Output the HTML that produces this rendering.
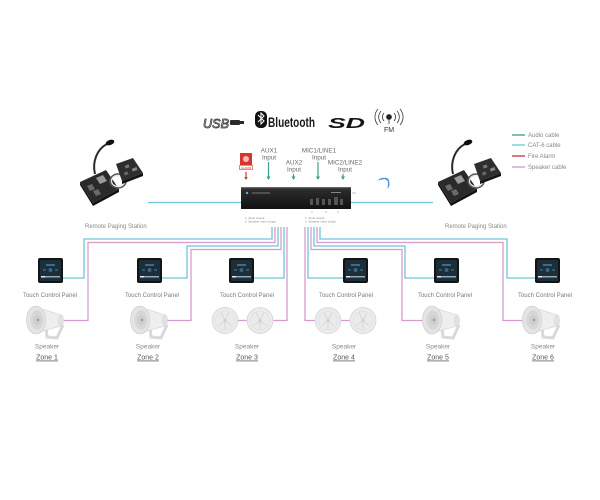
<!DOCTYPE html>
<html><head><meta charset="utf-8"><style>
html,body{margin:0;padding:0;background:#fff;}
svg{display:block;font-family:"Liberation Sans",sans-serif;}
</style></head><body>
<svg width="600" height="500" viewBox="0 0 600 500" xmlns="http://www.w3.org/2000/svg">
<defs>
<linearGradient id="amp" x1="0" y1="0" x2="0" y2="1">
<stop offset="0" stop-color="#4a4a4a"/><stop offset="0.15" stop-color="#2b2b2b"/><stop offset="1" stop-color="#111"/>
</linearGradient>
<g id="horn">
<path d="M20,22 L21,32 L31,33 L37,20" fill="none" stroke="#d9d9d9" stroke-width="3"/>
<polygon points="10,2 35,10 35,21 10,28" fill="#eeeeee" stroke="#d0d0d0" stroke-width="0.6"/>
<ellipse cx="35" cy="15.5" rx="2.5" ry="5.5" fill="#e2e2e2" stroke="#cfcfcf" stroke-width="0.5"/>
<ellipse cx="10" cy="15" rx="9.5" ry="14" fill="#e4e4e4" stroke="#c8c8c8" stroke-width="0.6"/>
<ellipse cx="11" cy="15" rx="6.5" ry="9.5" fill="#d6d6d6"/>
<ellipse cx="11.5" cy="15" rx="3.5" ry="5" fill="#cdcdcd"/>
<circle cx="12" cy="15" r="1.2" fill="#999"/>
</g>
<g id="ceil">
<circle cx="0" cy="0" r="13" fill="#ebebeb" stroke="#d3d3d3" stroke-width="0.7"/>
<circle cx="0" cy="0" r="9.5" fill="none" stroke="#dddddd" stroke-width="0.6"/>
<path d="M-4,-8 L0,0 L4,-8 M-6,5 L0,0 L6,5 M0,0 L0,9" stroke="#d2d2d2" stroke-width="0.8" fill="none"/>
<circle cx="0" cy="0" r="1.5" fill="#cfcfcf"/>
</g>
<g id="panel">
<rect x="0" y="0" width="25" height="25" rx="2" fill="#141414"/>
<rect x="2" y="2" width="21" height="21" rx="1" fill="#1d2e3b"/>
<rect x="8" y="6" width="9" height="2" fill="#3f6b86"/>
<circle cx="12.5" cy="12" r="2" fill="#3a6580"/>
<rect x="5" y="11" width="3" height="2" fill="#2f5873"/>
<rect x="17" y="11" width="3" height="2" fill="#2f5873"/>
<rect x="3" y="18" width="19" height="1.5" fill="#8fa9b8"/>
<rect x="3" y="18" width="4" height="1.5" fill="#e8e8e8"/>
</g>
<g id="station">
<polygon points="80,182 106,170 119,189 93,203" fill="#2a2a2a"/>
<polygon points="80,182 93,203 93,206 80,185" fill="#151515"/>
<polygon points="93,203 119,189 119,192 93,206" fill="#111"/>
<polygon points="96,178 103,175 107,181 100,184" fill="#9a9a9a"/>
<polygon points="87,186 92,184 95,189 90,191" fill="#6a6a6a"/>
<polygon points="93,191 98,189 101,194 96,196" fill="#6a6a6a"/>
<path d="M95,174 C92,162 97,149 107,144" fill="none" stroke="#2a2a2a" stroke-width="2"/>
<ellipse cx="110" cy="142.5" rx="4.5" ry="2.5" transform="rotate(-20 110 142.5)" fill="#111"/>
<ellipse cx="118" cy="181" rx="8" ry="7" fill="none" stroke="#555" stroke-width="1.5"/>
<ellipse cx="118" cy="181" rx="6.5" ry="5.5" fill="none" stroke="#e8e8e8" stroke-width="1.3"/>
<polygon points="116,164 133,158 143,173 122,181" fill="#2e2e2e"/>
<polygon points="122,181 143,173 143,176 122,184" fill="#151515"/>
<rect x="125" y="165" width="4" height="3" fill="#777" transform="rotate(-20 127 166)"/>
<rect x="132" y="168" width="5" height="3" fill="#888" transform="rotate(-20 134 169)"/>
<rect x="124" y="172" width="4" height="3" fill="#666" transform="rotate(-20 126 173)"/>
</g>
</defs>

<!-- logos -->
<g>
<text x="203" y="128" font-size="13" font-style="italic" fill="none" stroke="#333" stroke-width="0.8" textLength="26" lengthAdjust="spacingAndGlyphs">USB</text>
<rect x="230" y="120" width="10" height="5" rx="1" fill="#2a2a2a"/>
<rect x="239" y="121" width="5" height="3" fill="#2a2a2a"/>
<rect x="255" y="111" width="12" height="17" rx="5" fill="#111"/>
<path d="M258,115 L264,121 L261,124 L261,113 L264,116 L258,122" fill="none" stroke="#fff" stroke-width="1"/>
<text x="268" y="127" font-size="14" font-weight="bold" fill="#1a1a1a" textLength="47" lengthAdjust="spacingAndGlyphs">Bluetooth</text>
<text x="328" y="128" font-size="15" font-weight="bold" font-style="italic" fill="#151515" textLength="37" lengthAdjust="spacingAndGlyphs">SD</text>
<g fill="none" stroke="#333" stroke-width="0.8">
<circle cx="389" cy="117" r="2.5" fill="#222"/>
<line x1="389" y1="119" x2="389" y2="124"/>
<path d="M384,113 A6,6 0 0 0 384,121 M394,113 A6,6 0 0 1 394,121"/>
<path d="M381,111 A9,9 0 0 0 381,123 M397,111 A9,9 0 0 1 397,123"/>
<path d="M378,109 A12,12 0 0 0 378,125 M400,109 A12,12 0 0 1 400,125"/>
</g>
<text x="389" y="132" font-size="7" text-anchor="middle" fill="#333">FM</text>
</g>

<!-- input labels -->
<g font-size="6.3" fill="#6a6a6a" text-anchor="middle">
<text x="269" y="152.5">AUX1</text><text x="269" y="159.5">Input</text>
<text x="294" y="164.5">AUX2</text><text x="294" y="171.5">Input</text>
<text x="319" y="152.5">MIC1/LINE1</text><text x="319" y="159.5">Input</text>
<text x="345" y="164.5">MIC2/LINE2</text><text x="345" y="171.5">Input</text>
</g>
<!-- input arrows -->
<g stroke="#3a9e8c" stroke-width="1.2" fill="#3a9e8c">
<line x1="268.5" y1="162" x2="268.5" y2="178"/><polygon points="266.5,176.5 270.5,176.5 268.5,180" stroke="none"/>
<line x1="293.5" y1="174" x2="293.5" y2="178"/><polygon points="291.5,176.5 295.5,176.5 293.5,180" stroke="none"/>
<line x1="318" y1="162" x2="318" y2="178"/><polygon points="316,176.5 320,176.5 318,180" stroke="none"/>
<line x1="343" y1="174" x2="343" y2="178"/><polygon points="341,176.5 345,176.5 343,180" stroke="none"/>
</g>
<!-- fire alarm -->
<rect x="240" y="153" width="12" height="12" fill="#d9342f"/>
<circle cx="246" cy="159" r="3" fill="#f2c2c0"/>
<rect x="239.5" y="165.5" width="13" height="4" fill="#fff" stroke="#d9342f" stroke-width="0.6"/>
<text x="246" y="168.8" font-size="3" text-anchor="middle" fill="#d9342f">ALARM</text>
<line x1="246" y1="172" x2="246" y2="178" stroke="#d9342f" stroke-width="1.2"/>
<polygon points="244.2,177 247.8,177 246,180" fill="#d9342f"/>

<!-- wireless -->
<g fill="none" stroke="#4a90d9" stroke-width="0.9" transform="rotate(40 385 182)">
<path d="M382,181 A3,3 0 0 1 388,181"/>
<path d="M380.5,183 A4.5,4.5 0 0 1 389.5,183"/>
<path d="M379,185 A6,6 0 0 1 391,185"/>
</g>

<!-- paging cat6 -->
<line x1="148" y1="202.5" x2="241" y2="202.5" stroke="#6cc6d9" stroke-width="1.3"/>
<line x1="351" y1="202.5" x2="433" y2="202.5" stroke="#6cc6d9" stroke-width="1.3"/>

<!-- amplifier -->
<rect x="241" y="187" width="110" height="22" fill="url(#amp)"/>
<rect x="241" y="187" width="110" height="1" fill="#666"/>
<circle cx="247" cy="193" r="1.2" fill="#4fb3d9"/>
<rect x="252" y="192.5" width="18" height="1" fill="#777"/>
<rect x="331" y="192" width="10" height="1" fill="#888"/>
<g fill="#555">
<rect x="310" y="199" width="3" height="6"/><rect x="316" y="198" width="3" height="7"/>
<rect x="322" y="199" width="3" height="6"/><rect x="328" y="199" width="3" height="6"/>
<rect x="334" y="197" width="4" height="8"/><rect x="340" y="199" width="3" height="6"/>
</g>
<line x1="352" y1="193" x2="356" y2="193" stroke="#999" stroke-width="0.6"/>
<g font-size="3" fill="#888" text-anchor="middle">
<text x="312" y="213">1</text><text x="326" y="213">2</text><text x="338" y="213">3</text>
</g>
<g font-size="3" fill="#888">
<text x="245" y="219">1.  Zone output</text><text x="245" y="222.5">2.  Speaker zone output</text>
<text x="305" y="219">1.  Zone output</text><text x="305" y="222.5">2.  Speaker zone output</text>
</g>

<!-- paging stations -->
<use href="#station"/>
<use href="#station" transform="translate(358,0)"/>
<g font-size="6" fill="#8a8a8a">
<text x="85" y="228">Remote Paging Station</text>
<text x="445" y="228">Remote Paging Station</text>
</g>

<!-- legend -->
<g stroke-width="1.3">
<line x1="512" y1="135" x2="525" y2="135" stroke="#3a9e8c"/>
<line x1="512" y1="145" x2="525" y2="145" stroke="#6cc6d9"/>
<line x1="512" y1="156" x2="525" y2="156" stroke="#c8303a"/>
<line x1="512" y1="167" x2="525" y2="167" stroke="#c99ac8"/>
</g>
<g font-size="6" fill="#888">
<text x="528" y="137">Audio cable</text>
<text x="528" y="147">CAT-6  cable</text>
<text x="528" y="158">Fire Alarm</text>
<text x="528" y="169">Speaker cable</text>
</g>

<!-- cables -->
<g fill="none" stroke-width="1.3">
<path d="M272,227 V239 H84 V278 H63" stroke="#6cc6d9"/>
<path d="M275,227 V242.5 H88 V320.5 H64" stroke="#d89ccc"/>
<path d="M278,227 V246 H187 V278 H162" stroke="#6cc6d9"/>
<path d="M281,227 V249.5 H191 V320.5 H167" stroke="#d89ccc"/>
<path d="M284,227 V278 H254" stroke="#6cc6d9"/>
<path d="M287,227 V320.5 H273" stroke="#d89ccc"/>
<path d="M238,320.5 H247" stroke="#d89ccc"/>

<path d="M305,227 V320.5 H315" stroke="#d89ccc"/>
<path d="M308,227 V278 H343" stroke="#6cc6d9"/>
<path d="M311,227 V249.5 H402 V320.5 H423" stroke="#d89ccc"/>
<path d="M314,227 V246 H405 V278 H434" stroke="#6cc6d9"/>
<path d="M317,227 V242.5 H503 V320.5 H523" stroke="#d89ccc"/>
<path d="M320,227 V239 H507 V278 H535" stroke="#6cc6d9"/>
<path d="M341,320.5 H350" stroke="#d89ccc"/>
</g>

<!-- panels -->
<use href="#panel" x="38" y="258"/>
<use href="#panel" x="137" y="258"/>
<use href="#panel" x="229" y="258"/>
<use href="#panel" x="343" y="258"/>
<use href="#panel" x="434" y="258"/>
<use href="#panel" x="535" y="258"/>
<g font-size="6" fill="#7a7a7a" text-anchor="middle">
<text x="50" y="297">Touch Control Panel</text>
<text x="152" y="297">Touch Control Panel</text>
<text x="247" y="297">Touch Control Panel</text>
<text x="346" y="297">Touch Control Panel</text>
<text x="445" y="297">Touch Control Panel</text>
<text x="545" y="297">Touch Control Panel</text>
</g>

<!-- speakers -->
<use href="#horn" x="26" y="305"/>
<use href="#horn" x="130" y="305"/>
<use href="#ceil" x="225" y="320.5"/>
<use href="#ceil" x="260" y="320.5"/>
<use href="#ceil" x="328" y="320.5"/>
<use href="#ceil" x="363" y="320.5"/>
<use href="#horn" x="422" y="305"/>
<use href="#horn" x="522" y="305"/>

<g font-size="6.5" fill="#8a8a8a" text-anchor="middle">
<text x="47" y="348.5">Speaker</text>
<text x="148" y="348.5">Speaker</text>
<text x="247" y="348.5">Speaker</text>
<text x="344" y="348.5">Speaker</text>
<text x="438" y="348.5">Speaker</text>
<text x="543" y="348.5">Speaker</text>
</g>
<g font-size="7" fill="#555" text-anchor="middle" text-decoration="underline">
<text x="47" y="359.5">Zone 1</text>
<text x="148" y="359.5">Zone 2</text>
<text x="247" y="359.5">Zone 3</text>
<text x="344" y="359.5">Zone 4</text>
<text x="438" y="359.5">Zone 5</text>
<text x="543" y="359.5">Zone 6</text>
</g>
<g stroke="#777" stroke-width="0.5">
<line x1="36" y1="361" x2="58" y2="361"/>
<line x1="137" y1="361" x2="159" y2="361"/>
<line x1="236" y1="361" x2="258" y2="361"/>
<line x1="333" y1="361" x2="355" y2="361"/>
<line x1="427" y1="361" x2="449" y2="361"/>
<line x1="532" y1="361" x2="554" y2="361"/>
</g>
</svg>
</body></html>
